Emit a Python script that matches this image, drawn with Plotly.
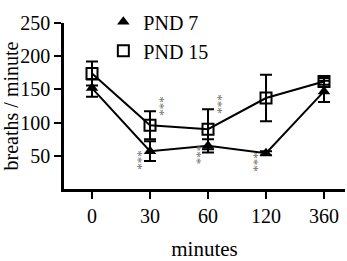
import plotly.graph_objects as go

minutes = ["0", "30", "60", "120", "360"]
pnd7 = [152, 57, 65, 54, 147]
pnd7_err = [13, 15, 10, 3, 16]
pnd15 = [174, 96, 90, 137, 162]
pnd15_err = [18, 21, 30, 35, 5]
# significance markers: minute indices
sig_pnd7 = [1, 2, 3]
sig_pnd15 = [1, 2]
yticks = [50, 100, 150, 200, 250]

FONT = "Liberation Serif"
xs = list(range(len(minutes)))

m7 = dict(symbol="triangle-up", size=11, color="black")
m15 = dict(symbol="square-open", size=11, color="black", line=dict(width=2, color="black"))

fig = go.Figure()
fig.add_trace(go.Scatter(
    x=xs, y=pnd7, name="PND 7", mode="lines+markers", showlegend=False,
    line=dict(color="black", width=2), marker=m7,
    error_y=dict(type="data", array=pnd7_err, visible=True, color="black", thickness=2, width=6),
))
fig.add_trace(go.Scatter(
    x=xs, y=pnd15, name="PND 15", mode="lines+markers", showlegend=False,
    line=dict(color="black", width=2), marker=m15,
    error_y=dict(type="data", array=pnd15_err, visible=True, color="black", thickness=2, width=6),
))
fig.add_trace(go.Scatter(x=[None], y=[None], name="PND 7", mode="markers", marker=m7))
fig.add_trace(go.Scatter(x=[None], y=[None], name="PND 15", mode="markers", marker=m15))

for i in sig_pnd7:
    fig.add_annotation(x=xs[i], y=pnd7[i], text="***", textangle=90, showarrow=False,
                       xshift=-11, yshift=-9, font=dict(family=FONT, size=13, color="#6e6e6e"))
for i in sig_pnd15:
    fig.add_annotation(x=xs[i], y=pnd15[i] + pnd15_err[i], text="***", textangle=90, showarrow=False,
                       xshift=11, yshift=5, font=dict(family=FONT, size=13, color="#6e6e6e"))

fig.update_layout(
    width=347, height=261,
    margin=dict(l=64, r=2, t=14, b=62),
    paper_bgcolor="white", plot_bgcolor="white",
    font=dict(family=FONT, size=20, color="black"),
    showlegend=True,
    legend=dict(x=0.14, y=1.125, xanchor="left", yanchor="top", bgcolor="rgba(0,0,0,0)",
                font=dict(family=FONT, size=20), tracegroupgap=0, itemwidth=30),
    xaxis=dict(
        range=[-0.483, 4.362], tickvals=xs, ticktext=minutes,
        showline=True, linecolor="black", linewidth=2.5,
        ticks="outside", ticklen=7, tickwidth=2, tickcolor="black",
        showgrid=False, zeroline=False,
        title=dict(text="minutes", standoff=18, font=dict(family=FONT, size=21)),
    ),
    yaxis=dict(
        range=[0, 250], tickvals=yticks,
        showline=True, linecolor="black", linewidth=2.5,
        ticks="outside", ticklen=7, tickwidth=2, tickcolor="black",
        showgrid=False, zeroline=False,
        title=dict(text="breaths / minute", standoff=4, font=dict(family=FONT, size=20)),
    ),
)

fig.write_html("out.html")
